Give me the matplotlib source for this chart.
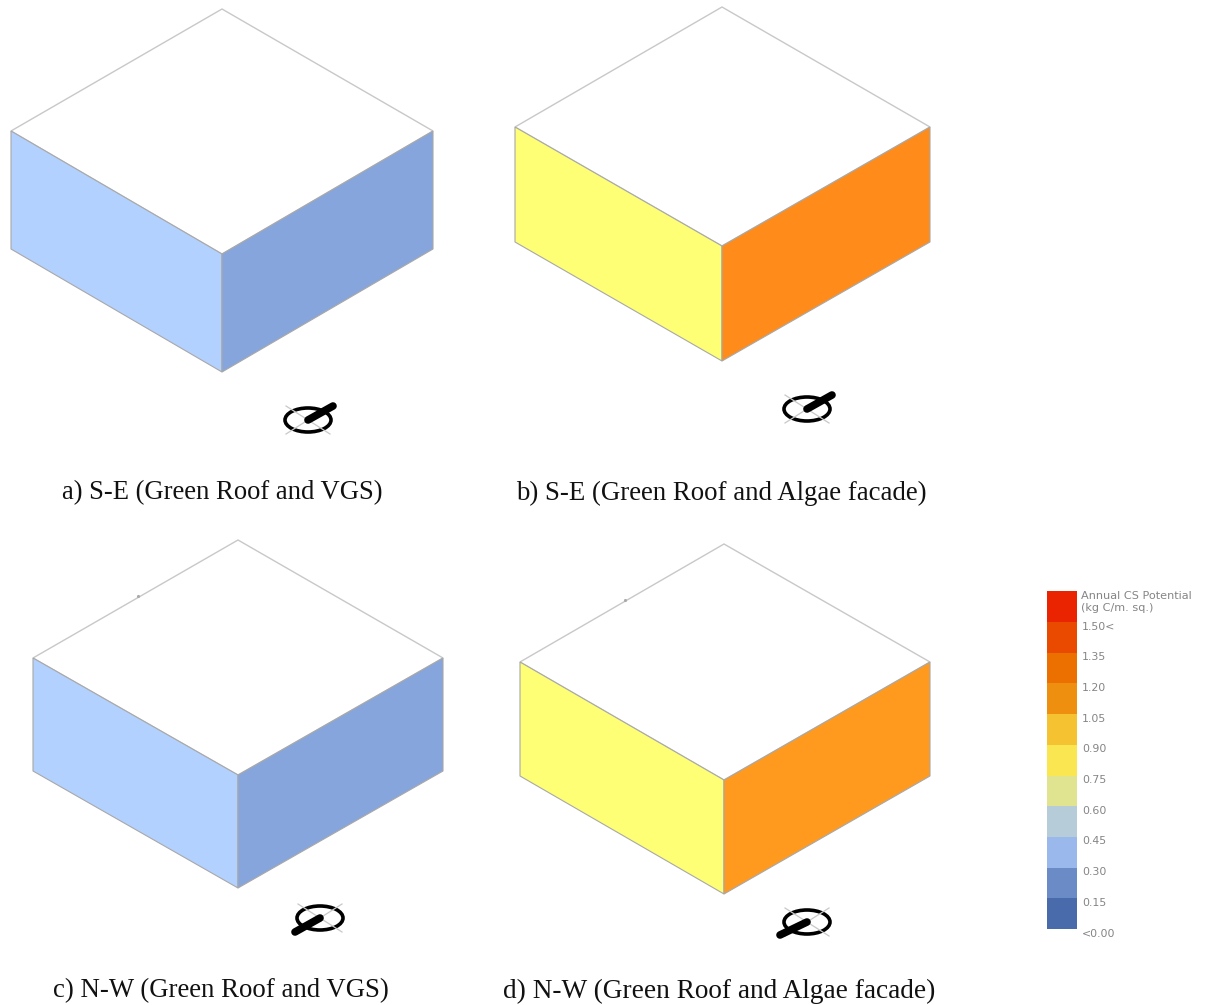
import matplotlib
matplotlib.use('Agg')
import matplotlib.pyplot as plt
from matplotlib.patches import Ellipse, Polygon

W, H = 1207, 1005

# one isometric block per panel, in picture pixels
captions = ['a) S-E (Green Roof and VGS)', 'b) S-E (Green Roof and Algae facade)',
            'c) N-W (Green Roof and VGS)', 'd) N-W (Green Roof and Algae facade)']
caption_x = [62, 516, 53, 503]
caption_y = [493, 493, 991, 991]
caption_size = [19.2, 19.4, 19.3, 19.6]
apex_x = [222, 722, 238, 724]
apex_y = [9, 7, 540, 544]
left_x = [11, 515, 33, 520]
right_x = [433, 930, 443, 930]
side_y = [131, 127, 658, 662]
front_y = [254, 246, 775, 780]
depth = [118, 115, 113, 114]
left_colors = ['#b3d1ff', '#ffff75', '#b3d1ff', '#ffff75']
right_colors = ['#86a5dd', '#ff8c1a', '#86a5dd', '#ff9a1f']

compass_x = [308, 807, 320, 807]
compass_y = [420, 409, 918, 922]
stick_dx = [25, 25, -25, -27]
stick_dy = [-14, -14, 14, 13]

# small nicks on the top edge of the lower blocks
nick_x = [138, 625]
nick_y = [596, 600]

legend_colors = ['#4a6bab', '#6b8bc6', '#9ab8ec', '#b7ccd9', '#e0e38f', '#f9e650',
                 '#f5c232', '#ee8f10', '#ec7000', '#ea4a00', '#ea2400']
legend_labels = ['<0.00', '0.15', '0.30', '0.45', '0.60', '0.75',
                 '0.90', '1.05', '1.20', '1.35', '1.50<']
legend_title = 'Annual CS Potential\n(kg C/m. sq.)'

fig = plt.figure(figsize=(W / 100, H / 100), dpi=100)
ax = fig.add_axes([0, 0, 1, 1])
ax.set_xlim(0, W)
ax.set_ylim(H, 0)
ax.axis('off')

for i in range(4):
    tx, ty = apex_x[i], apex_y[i]
    lx, rx, sy, fy, d = left_x[i], right_x[i], side_y[i], front_y[i], depth[i]
    ax.add_patch(Polygon([(tx, ty), (rx, sy), (tx, fy), (lx, sy)], closed=True,
                         fc='white', ec='#c8c8c8', lw=1.0))
    ax.add_patch(Polygon([(lx, sy), (tx, fy), (tx, fy + d), (lx, sy + d)], closed=True,
                         fc=left_colors[i], ec='#a8a8a8', lw=0.8))
    ax.add_patch(Polygon([(tx, fy), (rx, sy), (rx, sy + d), (tx, fy + d)], closed=True,
                         fc=right_colors[i], ec='#a8a8a8', lw=0.8))
    ax.text(caption_x[i], caption_y[i], captions[i], family='Liberation Serif',
            fontsize=caption_size[i], color='#111111', va='center', ha='left')

    # north marker
    cx, cy = compass_x[i], compass_y[i]
    ax.plot([cx - 22, cx + 22], [cy - 14, cy + 14], color='#c8c8c8', lw=0.9)
    ax.plot([cx - 22, cx + 22], [cy + 14, cy - 14], color='#c8c8c8', lw=0.9)
    ax.add_patch(Ellipse((cx, cy), 46, 24, fc='none', ec='black', lw=2.6))
    ax.plot([cx, cx + stick_dx[i]], [cy, cy + stick_dy[i]], color='black', lw=5.5,
            solid_capstyle='round')

ax.plot(nick_x, nick_y, ls='none', marker='.', ms=2.5, color='#aaaaaa')

# legend strip
leg_x, leg_w, leg_bottom, leg_step = 1047, 30, 929, 30.7
for i, c in enumerate(legend_colors):
    y0 = leg_bottom - (i + 1) * leg_step
    ax.add_patch(plt.Rectangle((leg_x, y0), leg_w, leg_step, fc=c, ec='none'))
for i, t in enumerate(legend_labels):
    ax.text(leg_x + 35, leg_bottom + 4.5 - i * leg_step, t, family='DejaVu Sans',
            fontsize=7.9, color='#858585', va='center', ha='left')
ax.text(leg_x + 34, 602, legend_title, family='DejaVu Sans', fontsize=8.1,
        color='#858585', va='center', ha='left', linespacing=1.3)

fig.savefig('out.png', dpi=100)
